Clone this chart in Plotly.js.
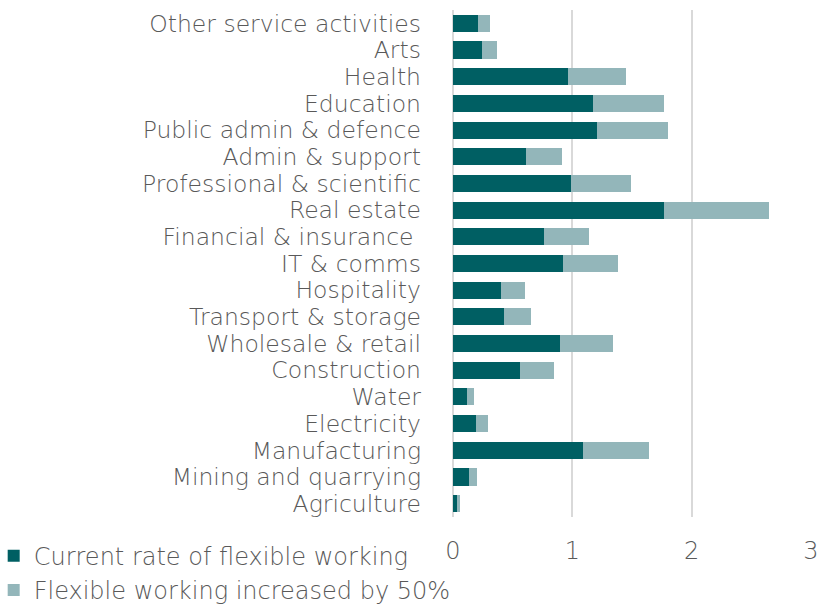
<!DOCTYPE html>
<html>
<head>
<meta charset="utf-8">
<script src="https://cdn.plot.ly/plotly-3.0.1.min.js"></script>
<style>html,body{margin:0;padding:0;background:#fff;}#chart{width:820px;height:610px;}</style>
</head>
<body>
<div id="chart"></div>
<script>
const categories = ["Agriculture","Mining and quarrying","Manufacturing","Electricity","Water","Construction","Wholesale & retail","Transport & storage","Hospitality","IT & comms","Financial & insurance ","Real estate","Professional & scientific","Admin & support","Public admin & defence","Education","Health","Arts","Other service activities"];
const currentRate = [0.035,0.13,1.09,0.19,0.12,0.56,0.895,0.43,0.40,0.92,0.76,1.77,0.99,0.61,1.205,1.175,0.96,0.245,0.21];
const increase50 = [0.022,0.07,0.55,0.10,0.06,0.285,0.445,0.22,0.20,0.46,0.38,0.88,0.50,0.30,0.595,0.595,0.49,0.125,0.10];
const seriesNames = ["Current rate of flexible working","Flexible working increased by 50%"];
const xTicks = [0,1,2,3];

const font = "'DejaVu Sans', sans-serif";
const textColor = "#595959";
const fs = 23.5;
const lfs = 24;

const traces = [
  {type:"bar", orientation:"h", y:categories, x:currentRate, name:seriesNames[0],
   marker:{color:"#005f63"}, hoverinfo:"x+y"},
  {type:"bar", orientation:"h", y:categories, x:increase50, name:seriesNames[1],
   marker:{color:"#93b6ba"}, hoverinfo:"x+y"}
];

const layout = {
  width:820, height:610,
  margin:{l:453, r:9, t:10, b:93, autoexpand:false},
  barmode:"stack",
  bargap:0.36,
  paper_bgcolor:"#fff", plot_bgcolor:"#fff",
  font:{family:font, color:textColor, size:fs, weight:200},
  xaxis:{range:[0,3], tickmode:"array", tickvals:xTicks, ticktext:xTicks.map(String), showgrid:true, gridcolor:"#d9d9d9", gridwidth:2,
         zeroline:true, zerolinecolor:"#d9d9d9", zerolinewidth:2, showline:false, ticks:"",
         tickfont:{family:font, size:24, color:textColor, weight:200}, ticklabelstandoff:17, fixedrange:true, automargin:false},
  yaxis:{type:"category", categoryorder:"array", categoryarray:categories, tickmode:"array", tickvals:categories, ticktext:categories,
         showgrid:false, showline:false, ticks:"",
         tickfont:{family:font, size:fs, color:textColor, weight:200}, ticklabelstandoff:31, fixedrange:true, automargin:false},
  legend:{orientation:"v", x:-1.283, xanchor:"left", y:-0.033, yanchor:"top", traceorder:"normal",
          font:{family:font, size:lfs, color:textColor, weight:200}, bgcolor:"rgba(0,0,0,0)", itemwidth:30, tracegroupgap:0},
  showlegend:true
};

Plotly.newPlot("chart", traces, layout, {displayModeBar:false, staticPlot:true});
</script>
</body>
</html>
